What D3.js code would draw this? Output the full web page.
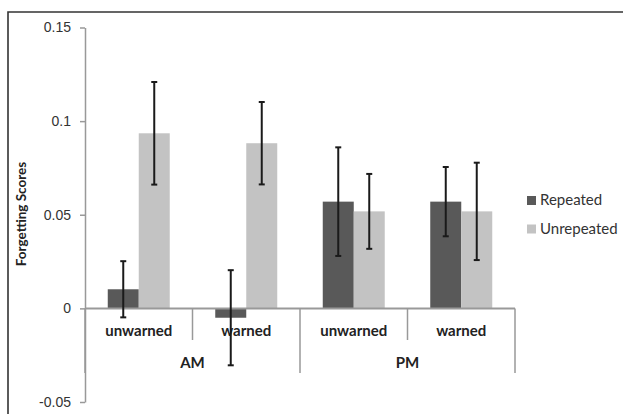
<!DOCTYPE html>
<html>
<head>
<meta charset="utf-8">
<script src="https://cdn.jsdelivr.net/npm/d3@7"></script>
<style>
  body { margin: 0; background: #fff; }
  svg { display: block; font-family: Lato, "Open Sans", sans-serif; }
</style>
</head>
<body>
<script>
// chart data
const groups = ["AM", "PM"];
const conditions = ["unwarned", "warned"];
const series = ["Repeated", "Unrepeated"];
const repeated = [0.0102, -0.005, 0.057, 0.057];
const repeatedErr = [0.015, 0.0254, 0.029, 0.0185];
const unrepeated = [0.0935, 0.0882, 0.0518, 0.0518];
const unrepeatedErr = [0.0274, 0.022, 0.02, 0.026];
const yTicks = [-0.05, 0, 0.05, 0.1, 0.15];

const w = 623, h = 414;
const colors = ["#595959", "#c3c3c3"];

// one entry per category (group x condition)
const cats = [];
groups.forEach(g => conditions.forEach(c => cats.push(g + "|" + c)));
const values = [repeated, unrepeated];
const errs = [repeatedErr, unrepeatedErr];

const svg = d3.select('body')
    .append('svg')
    .attr('width', w)
    .attr('height', h);

// outer frame (top and left only are visible)
svg.append('path')
    .attr('d', `M8,${h} V12 H${w}`)
    .attr('fill', 'none')
    .attr('stroke', '#333')
    .attr('stroke-width', 1.6);

const yScale = d3.scaleLinear()
    .domain([-0.05, 0.15])
    .range([402, 27.5]);

const xScale = d3.scaleBand()
    .domain(cats)
    .range([85, 515]);

const xSub = d3.scaleBand()
    .domain(series)
    .range([0, xScale.bandwidth()])
    .paddingInner(0)
    .paddingOuter(0.734);

// bars
series.forEach((s, si) => {
    svg.append('g')
        .selectAll('rect')
        .data(cats)
        .enter()
        .append('rect')
        .attr('x', (d) => xScale(d) + xSub(s))
        .attr('width', xSub.bandwidth())
        .attr('y', (d, i) => yScale(Math.max(0, values[si][i])))
        .attr('height', (d, i) => Math.abs(yScale(values[si][i]) - yScale(0)))
        .attr('fill', colors[si]);
});

// y axis
const yAxis = d3.axisLeft(yScale)
    .tickValues(yTicks)
    .tickFormat((d) => String(d))
    .tickSize(5)
    .tickSizeOuter(0)
    .tickPadding(9);
const yg = svg.append('g')
    .attr('transform', 'translate(85,0)')
    .call(yAxis);
yg.selectAll('path, line').attr('stroke', '#999').attr('stroke-width', 1.5);
yg.selectAll('text').attr('fill', '#333').style('font-size', '14px');

// category axis
const y0 = yScale(0);
svg.append('line')
    .attr('x1', 85).attr('x2', 515)
    .attr('y1', y0).attr('y2', y0)
    .attr('stroke', '#999')
    .attr('stroke-width', 2);

// separators between categories
svg.append('g')
    .selectAll('line')
    .data(cats.concat(['end']))
    .enter()
    .append('line')
    .attr('x1', (d, i) => i < cats.length ? xScale(d) : 515)
    .attr('x2', (d, i) => i < cats.length ? xScale(d) : 515)
    .attr('y1', y0)
    .attr('y2', (d, i) => i % 2 === 0 ? 373 : 340)
    .attr('stroke', '#999')
    .attr('stroke-width', 1.5);

// condition labels
svg.append('g')
    .selectAll('text')
    .data(cats)
    .enter()
    .append('text')
    .attr('x', (d) => xScale(d) + xScale.bandwidth() / 2)
    .attr('y', 336)
    .attr('text-anchor', 'middle')
    .attr('fill', '#222')
    .style('font-size', '15px')
    .style('font-weight', 'bold')
    .text((d) => d.split('|')[1]);

// group labels
svg.append('g')
    .selectAll('text')
    .data(groups)
    .enter()
    .append('text')
    .attr('x', (d) => xScale(d + '|' + conditions[0]) + xScale.bandwidth())
    .attr('y', 368)
    .attr('text-anchor', 'middle')
    .attr('fill', '#222')
    .style('font-size', '15px')
    .style('font-weight', 'bold')
    .text((d) => d);

// error bars
series.forEach((s, si) => {
    const g = svg.append('g')
        .attr('stroke', '#1a1a1a')
        .attr('stroke-width', 2);
    cats.forEach((c, i) => {
        const cx = xScale(c) + xSub(s) + xSub.bandwidth() / 2;
        const lo = yScale(values[si][i] - errs[si][i]);
        const hi = yScale(values[si][i] + errs[si][i]);
        g.append('line').attr('x1', cx).attr('x2', cx).attr('y1', lo).attr('y2', hi);
        g.append('line').attr('x1', cx - 3).attr('x2', cx + 3).attr('y1', lo).attr('y2', lo);
        g.append('line').attr('x1', cx - 3).attr('x2', cx + 3).attr('y1', hi).attr('y2', hi);
    });
});

// y axis title
svg.append('text')
    .attr('transform', 'translate(26,214) rotate(-90)')
    .attr('text-anchor', 'middle')
    .attr('fill', '#222')
    .style('font-size', '13.5px')
    .style('font-weight', 'bold')
    .text('Forgetting Scores');

// legend
const legend = svg.append('g')
    .selectAll('g')
    .data(series)
    .enter()
    .append('g')
    .attr('transform', (d, i) => `translate(527, ${196 + i * 28.5})`);
legend.append('rect')
    .attr('width', 9)
    .attr('height', 9)
    .attr('fill', (d, i) => colors[i]);
legend.append('text')
    .attr('x', 13)
    .attr('y', 9)
    .attr('fill', '#333')
    .style('font-size', '15px')
    .text((d) => d);
</script>
</body>
</html>
